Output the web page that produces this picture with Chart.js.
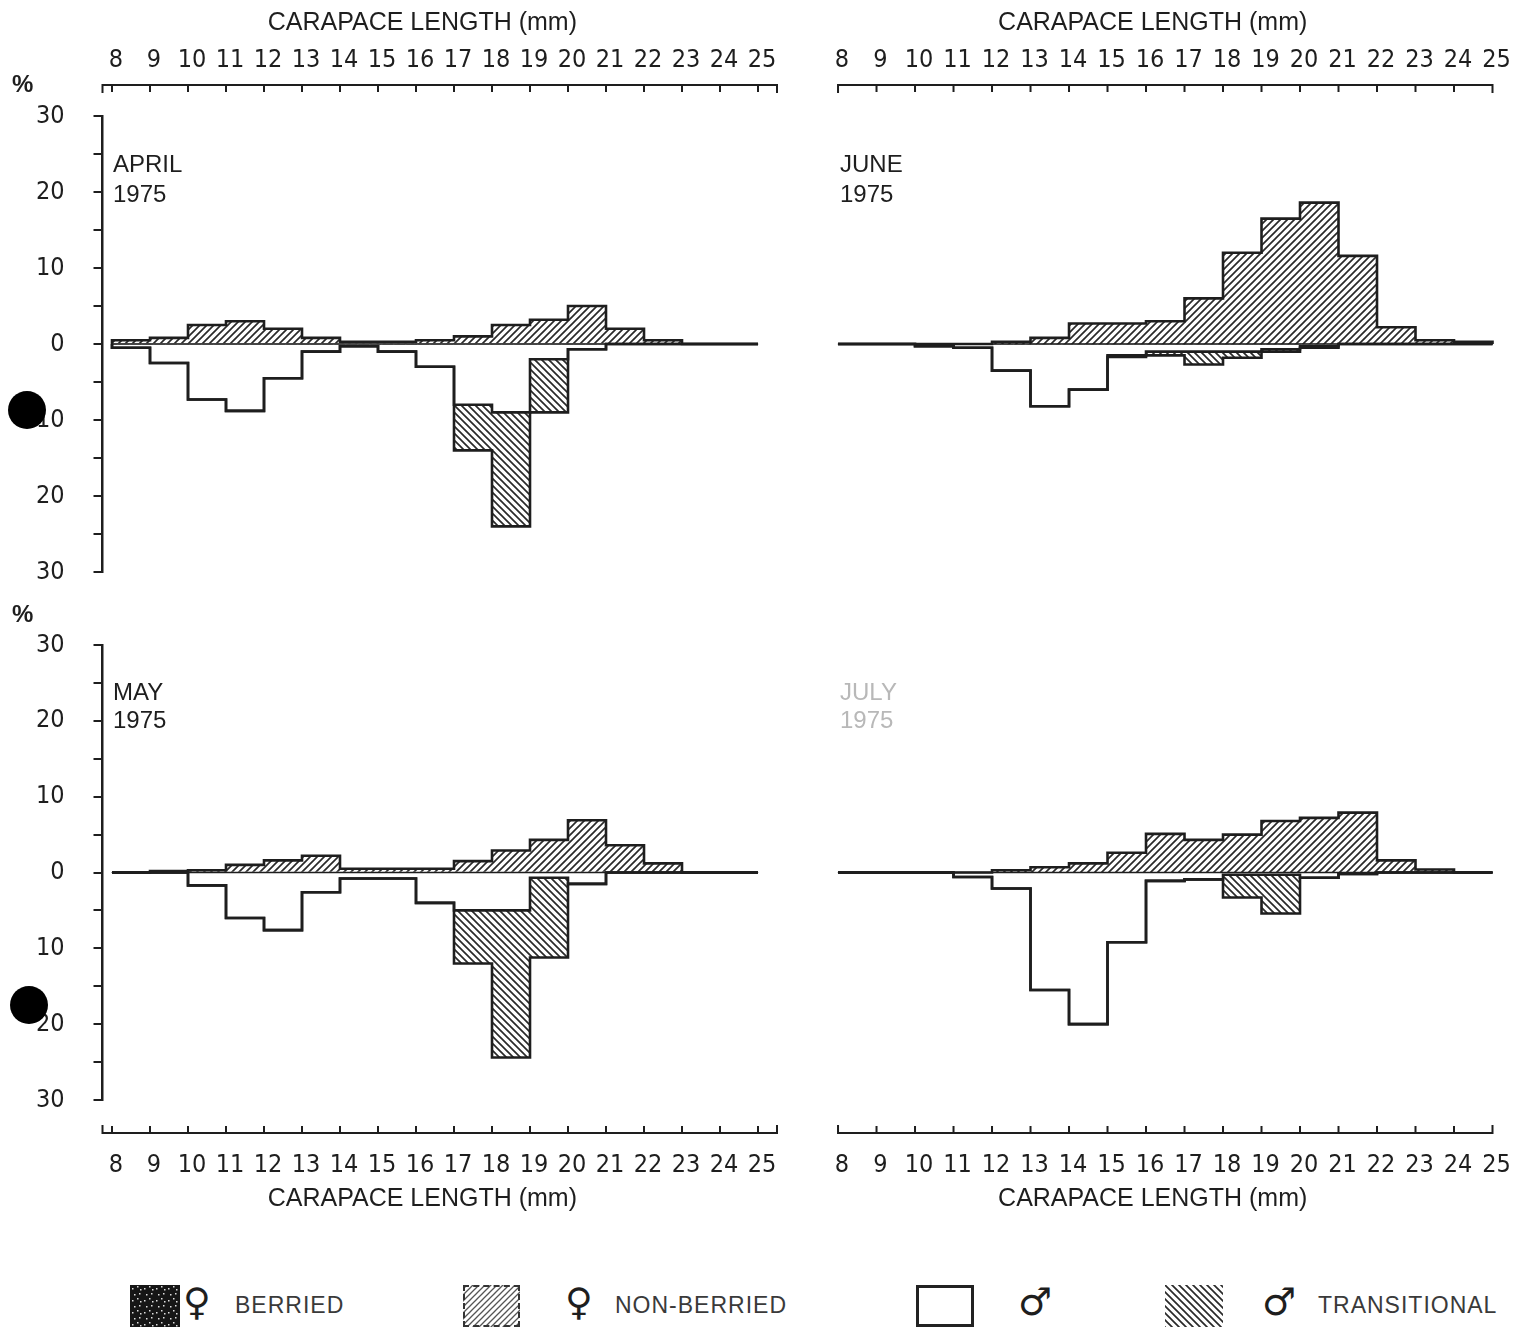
<!DOCTYPE html>
<html>
<head>
<meta charset="utf-8">
<title>Carapace length frequencies, April-July 1975</title>
<script src="https://cdn.jsdelivr.net/npm/chart.js@4.4.1/dist/chart.umd.min.js"></script>
<style>
  body { margin: 0; background: #fff; }
  #page { position: relative; width: 1519px; height: 1333px; overflow: hidden; font-family: 'Liberation Sans', Arial, sans-serif; color: #1e1e1e; }
  #page canvas.panel { position: absolute; }
  .txt { position: absolute; font-size: 24px; line-height: 30px; white-space: nowrap; }
  .pct { position: absolute; font-size: 24px; font-weight: bold; line-height: 28px; }
  .hole { position: absolute; width: 38px; height: 38px; border-radius: 50%; background: #000; }
  .sw { position: absolute; top: 1285px; height: 42px; box-sizing: border-box; }
  .sym { position: absolute; top: 1280px; font-family: 'DejaVu Sans', sans-serif; font-size: 38px; line-height: 44px; }
  .leg { position: absolute; top: 1290px; font-size: 23px; line-height: 30px; color: #3a3a3a; letter-spacing: 1px; white-space: nowrap; }
</style>
</head>
<body>
<div id="page">
  <canvas id="apr" class="panel" width="800" height="600" style="left:0;top:0"></canvas>
  <canvas id="jun" class="panel" width="719" height="600" style="left:800px;top:0"></canvas>
  <canvas id="may" class="panel" width="800" height="630" style="left:0;top:600px"></canvas>
  <canvas id="jul" class="panel" width="719" height="630" style="left:800px;top:600px"></canvas>

  <div class="pct" style="left:12px;top:70px">%</div>
  <div class="pct" style="left:12px;top:600px">%</div>

  <div class="txt" style="left:113px;top:149px">APRIL<br>1975</div>
  <div class="txt" style="left:840px;top:149px">JUNE<br>1975</div>
  <div class="txt" style="left:113px;top:678px;line-height:28px">MAY<br>1975</div>
  <div class="txt" style="left:840px;top:678px;line-height:28px;color:#b8b8b8">JULY<br>1975</div>

  <div class="hole" style="left:8px;top:391px"></div>
  <div class="hole" style="left:10px;top:986px"></div>

  <div id="swBerried" class="sw" style="left:130px;width:50px"></div>
  <div class="sym" style="left:183px">&#9792;</div>
  <div class="leg" style="left:235px">BERRIED</div>

  <div id="swNonBerried" class="sw" style="left:463px;width:57px;border:2px dashed #333"></div>
  <div class="sym" style="left:565px">&#9792;</div>
  <div class="leg" style="left:615px">NON-BERRIED</div>

  <div class="sw" style="left:916px;width:58px;border:3px solid #222"></div>
  <div class="sym" style="left:1018px">&#9794;</div>

  <div id="swTrans" class="sw" style="left:1165px;width:58px"></div>
  <div class="sym" style="left:1262px">&#9794;</div>
  <div class="leg" style="left:1318px">TRANSITIONAL</div>
</div>

<script>
// size classes: lower edge of each 1 mm class, and the edges 8..25
const edges = [8, 9, 10, 11, 12, 13, 14, 15, 16, 17, 18, 19, 20, 21, 22, 23, 24, 25];
const binStarts = edges.slice(0, -1);
const tickLabels = edges.map(String);
const yTicks = [-30, -25, -20, -15, -10, -5, 0, 5, 10, 15, 20, 25, 30];

// April 1975 (% of sample); males are plotted downwards
const aprBerried    = [0, 0, 0, 0, 0, 0, 0, 0, 0, 0, 0, 0, 0, 0, 0, 0, 0];
const aprNonBerried = [0.5, 0.8, 2.5, 3, 2, 0.8, 0.3, 0.3, 0.5, 1, 2.5, 3.2, 5, 2, 0.5, 0, 0];
const aprMale       = [0.5, 2.5, 7.3, 8.8, 4.5, 1, 0.3, 1, 3, 8, 9, 2, 0.7, 0, 0, 0, 0];
const aprTrans      = [0, 0, 0, 0, 0, 0, 0, 0, 0, 6, 15, 7, 0, 0, 0, 0, 0];

// June 1975
const junBerried    = [0, 0, 0, 0, 0, 0, 0, 0, 0, 0, 0, 0, 0, 0, 0, 0, 0];
const junNonBerried = [0, 0, 0, 0, 0.3, 0.8, 2.7, 2.7, 3, 6, 12, 16.5, 18.6, 11.6, 2.2, 0.5, 0.3];
const junMale       = [0, 0, 0.3, 0.5, 3.5, 8.2, 6, 1.5, 1, 1, 1, 0.7, 0.3, 0, 0, 0, 0];
const junTrans      = [0, 0, 0, 0, 0, 0, 0, 0.2, 0.5, 1.7, 0.8, 0.3, 0.2, 0, 0, 0, 0];

// May 1975
const mayBerried    = [0, 0, 0, 0, 0, 0, 0, 0, 0, 0, 0, 0, 0, 0, 0, 0, 0];
const mayNonBerried = [0, 0.2, 0.3, 1, 1.6, 2.2, 0.5, 0.5, 0.5, 1.5, 2.9, 4.3, 6.9, 3.6, 1.2, 0, 0];
const mayMale       = [0, 0, 1.7, 6, 7.6, 2.6, 0.8, 0.8, 4, 5, 5, 0.7, 1.5, 0, 0, 0, 0];
const mayTrans      = [0, 0, 0, 0, 0, 0, 0, 0, 0, 7, 19.4, 10.5, 0, 0, 0, 0, 0];

// July 1975
const julBerried    = [0, 0, 0, 0, 0, 0, 0, 0, 0, 0, 0, 0, 0, 0, 0, 0, 0];
const julNonBerried = [0, 0, 0, 0, 0.3, 0.7, 1.2, 2.6, 5.1, 4.3, 5, 6.8, 7.2, 7.9, 1.6, 0.4, 0];
const julMale       = [0, 0, 0, 0.6, 2.1, 15.5, 20, 9.2, 1.1, 0.9, 0.3, 0.3, 0.7, 0.2, 0, 0, 0];
const julTrans      = [0, 0, 0, 0, 0, 0, 0, 0, 0, 0, 3, 5.1, 0, 0, 0, 0, 0];

const INK = '#1e1e1e';
const tickFont = { family: "'Liberation Sans Narrow', 'DejaVu Sans Condensed', 'Liberation Sans', sans-serif", size: 25 };
const titleFont = { family: "'Liberation Sans', Arial, sans-serif", size: 25 };
const axisTitle = 'CARAPACE LENGTH (mm)' + '\u00a0'.repeat(5);

// hatch tiles for the fills
const hatchTile = (dir, size, lw, color) => {
  const c = document.createElement('canvas');
  c.width = c.height = size;
  const g = c.getContext('2d');
  g.fillStyle = '#fff';
  g.fillRect(0, 0, size, size);
  g.strokeStyle = color;
  g.lineWidth = lw;
  g.beginPath();
  if (dir > 0) {
    g.moveTo(0, size); g.lineTo(size, 0);
    g.moveTo(-size / 2, size / 2); g.lineTo(size / 2, -size / 2);
    g.moveTo(size / 2, size * 1.5); g.lineTo(size * 1.5, size / 2);
  } else {
    g.moveTo(0, 0); g.lineTo(size, size);
    g.moveTo(size / 2, -size / 2); g.lineTo(size * 1.5, size / 2);
    g.moveTo(-size / 2, size / 2); g.lineTo(size / 2, size * 1.5);
  }
  g.stroke();
  return c;
};

const speckTile = () => {
  const c = document.createElement('canvas');
  c.width = c.height = 12;
  const g = c.getContext('2d');
  g.fillStyle = '#161616';
  g.fillRect(0, 0, 12, 12);
  g.fillStyle = '#ddd';
  [[2, 3], [7, 1], [9, 8], [4, 9], [10, 4]].forEach(([a, b]) => g.fillRect(a, b, 1.5, 1.5));
  return c;
};

const nbTile = hatchTile(1, 7, 1.7, '#2a2a2a');
const trTile = hatchTile(-1, 7, 1.7, '#2a2a2a');
const brTile = speckTile();

document.getElementById('swBerried').style.background = `url(${brTile.toDataURL()})`;
document.getElementById('swNonBerried').style.background = `url(${hatchTile(1, 6, 1.3, '#555').toDataURL()})`;
document.getElementById('swTrans').style.background = `url(${trTile.toDataURL()})`;

// the bracket-shaped size scale drawn a little away from the plot
const bracketPlugin = {
  id: 'bracket',
  afterDraw(chart, args, opts) {
    const { ctx, chartArea, scales: { x } } = chart;
    const top = opts.side === 'top';
    const y = top ? chartArea.top - opts.gap : chartArea.bottom + opts.gap;
    const dir = top ? 1 : -1;
    ctx.save();
    ctx.strokeStyle = INK;
    ctx.lineWidth = 2;
    ctx.beginPath();
    const x0 = x.getPixelForValue(opts.from), x1 = x.getPixelForValue(opts.to);
    ctx.moveTo(x0, y + dir * 8); ctx.lineTo(x0, y); ctx.lineTo(x1, y); ctx.lineTo(x1, y + dir * 8);
    edges.forEach(v => {
      const px = x.getPixelForValue(v);
      ctx.moveTo(px, y);
      ctx.lineTo(px, y + dir * 7);
    });
    ctx.stroke();
    ctx.restore();
  }
};

const stepLine = vals => [
  { x: edges[0], y: 0 },
  ...vals.map((v, i) => ({ x: edges[i], y: v })),
  { x: edges[edges.length - 1], y: vals[vals.length - 1] },
  { x: edges[edges.length - 1], y: 0 }
];

const barSet = (label, vals, fill) => ({
  type: 'bar',
  label,
  data: binStarts.map((b, i) => ({ x: b + 0.5, y: vals[i] })),
  backgroundColor: fill,
  borderWidth: 0,
  barPercentage: 1,
  categoryPercentage: 1,
  order: 2
});

const lineSet = (label, pts, width) => ({
  type: 'line',
  label,
  data: pts,
  yAxisID: 'yl',
  stepped: 'before',
  borderColor: INK,
  borderWidth: width,
  pointRadius: 0,
  fill: false,
  order: 0
});

const makePanel = p => {
  const ctx = document.getElementById(p.id).getContext('2d');
  const femaleTop = p.nb.map((v, i) => v + p.br[i]);
  const maleTop = p.m.map(v => -v);
  const maleBottom = p.m.map((v, i) => -(v + p.t[i]));

  new Chart(ctx, {
    type: 'bar',
    data: {
      datasets: [
        lineSet('zero', [{ x: edges[0], y: 0 }, { x: edges[edges.length - 1], y: 0 }], 1.5),
        lineSet('female outline', stepLine(femaleTop), 2.6),
        lineSet('male outline', stepLine(maleTop), 2.6),
        lineSet('transitional outline', stepLine(maleBottom), 2.6),
        barSet('\u2640 berried', p.br, ctx.createPattern(brTile, 'repeat')),
        barSet('\u2640 non-berried', p.nb, ctx.createPattern(nbTile, 'repeat')),
        barSet('\u2642', p.m.map(v => -v), '#fff'),
        barSet('\u2642 transitional', p.t.map(v => -v), ctx.createPattern(trTile, 'repeat'))
      ]
    },
    options: {
      responsive: false,
      animation: false,
      devicePixelRatio: 1,
      layout: { padding: p.pad },
      plugins: {
        legend: { display: false },
        tooltip: { enabled: false },
        bracket: { side: p.side, gap: p.gap, from: p.from, to: p.to }
      },
      scales: {
        x: {
          type: 'linear',
          position: p.side,
          min: 7.75,
          max: 25.5,
          offset: false,
          stacked: true,
          grid: { display: false, drawTicks: false, offset: false },
          border: { display: false },
          afterBuildTicks: s => { s.ticks = edges.map(v => ({ value: v })); },
          ticks: {
            autoSkip: false,
            maxRotation: 0,
            padding: p.tickPad,
            labelOffset: 4,
            color: INK,
            font: tickFont,
            callback: (v, i) => tickLabels[i]
          },
          title: {
            display: true,
            text: axisTitle,
            color: INK,
            font: titleFont,
            padding: p.titlePad
          },
          afterFit: s => { s.height = p.axisH; s.paddingLeft = 0; s.paddingRight = 0; }
        },
        y: {
          display: p.yAxis,
          min: -30,
          max: 30,
          stacked: true,
          afterBuildTicks: s => { s.ticks = yTicks.map(v => ({ value: v })); },
          grid: { drawOnChartArea: false, drawTicks: true, tickLength: 9, color: INK, lineWidth: 2 },
          border: { display: true, color: INK, width: 2.5 },
          ticks: {
            padding: 29,
            color: INK,
            font: tickFont,
            callback: v => (v % 10 === 0 ? String(Math.abs(v)) : '')
          },
          afterFit: s => { s.width = p.yAxis ? 102.5 : 0; s.paddingTop = 0; s.paddingBottom = 0; }
        },
        yl: { display: false, min: -30, max: 30, afterFit: s => { s.width = 0; } }
      }
    },
    plugins: [bracketPlugin]
  });
};

const topPanel = { side: 'top', gap: 31, axisH: 116, tickPad: 41, titlePad: { top: 8, bottom: 0 } };
const bottomPanel = { side: 'bottom', gap: 33, axisH: 130, tickPad: 50, titlePad: { top: 0, bottom: 15.6 } };

makePanel({ ...topPanel, id: 'apr', nb: aprNonBerried, br: aprBerried, m: aprMale, t: aprTrans,
  yAxis: true, pad: { left: 0, right: 23, top: 0, bottom: 28 }, from: 7.75, to: 25.5 });
makePanel({ ...topPanel, id: 'jun', nb: junNonBerried, br: junBerried, m: junMale, t: junTrans,
  yAxis: false, pad: { left: 28.4, right: 7.25, top: 0, bottom: 28 }, from: 8, to: 25 });
makePanel({ ...bottomPanel, id: 'may', nb: mayNonBerried, br: mayBerried, m: mayMale, t: mayTrans,
  yAxis: true, pad: { left: 0, right: 23, top: 45, bottom: 0 }, from: 7.75, to: 25.5 });
makePanel({ ...bottomPanel, id: 'jul', nb: julNonBerried, br: julBerried, m: julMale, t: julTrans,
  yAxis: false, pad: { left: 28.4, right: 7.25, top: 45, bottom: 0 }, from: 8, to: 25 });
</script>
</body>
</html>
